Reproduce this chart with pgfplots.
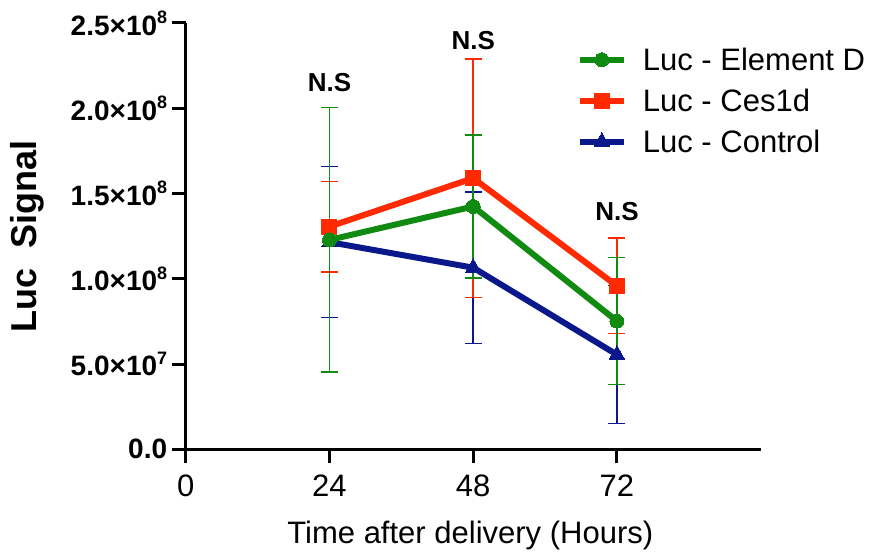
\documentclass[border=0pt]{standalone}
\usepackage{pgfplots}
\pgfplotsset{compat=1.18}
\usepackage{fontspec}
\setmainfont{Liberation Sans}
\definecolor{cgreen}{RGB}{16,138,16}
\definecolor{cred}{RGB}{255,42,0}
\definecolor{cblue}{RGB}{10,24,140}
\newcommand{\sct}[2]{\textbf{#1×10\raisebox{0.42em}{\fontsize{18}{18}\selectfont #2}}}
\begin{document}
\begin{tikzpicture}
\path[use as bounding box] (0,0) rectangle (872pt,555pt);
\begin{axis}[
  at={(185.7pt,105.7pt)}, anchor=south west,
  scale only axis, width=575pt, height=426.3pt,
  xmin=0, xmax=96, ymin=0, ymax=2.5e8,
  axis lines=left, axis line style={-, line width=3pt},
  tick style={line width=3pt, black}, tick align=outside,
  major tick length=14pt,
  xtick={0,24,48,72},
  ytick={0,0.5e8,1e8,1.5e8,2e8,2.5e8},
  yticklabels={\textbf{0.0},\sct{5.0}{7},\sct{1.0}{8},\sct{1.5}{8},\sct{2.0}{8},\sct{2.5}{8}},
  scaled y ticks=false,
  yticklabel style={font=\fontsize{28}{33}\selectfont, xshift=-1pt},
  xticklabel style={font=\fontsize{31}{37}\selectfont, yshift=-8pt},
  /pgf/number format/assume math mode=true,
  xlabel={Time after delivery (Hours)},
  xlabel style={font=\fontsize{31}{37}\selectfont, at={(axis description cs:0.495,-0.203)}, anchor=center},
  ylabel={\textbf{Luc\ \ Signal}},
  ylabel style={font=\fontsize{36}{42}\selectfont, at={(axis description cs:-0.276,0.5)}, anchor=center, rotate=0},
  clip=false,
  reverse legend,
  legend cell align=left,
  legend style={draw=none, fill=none, at={(0.68,0.947)}, anchor=north west,
    font=\fontsize{31}{36}\selectfont, row sep=13pt, inner sep=0pt},
  legend image code/.code={\draw[mark repeat=2, mark phase=2] plot coordinates {(0pt,0pt) (22pt,0pt) (44pt,0pt)};},
  every axis plot/.append style={line width=6pt},
  error bars/y dir=both, error bars/y explicit,
  error bars/error bar style={line width=1.5pt},
  error bars/error mark options={rotate=90, mark size=8.5pt, line width=1.5pt},
]
\addplot[cblue, mark=triangle*, mark size=9pt, mark options={solid, line width=0pt},
  error bars/error bar style={cblue, line width=1.5pt}]
  coordinates {(24,1.215e8) +- (0,0.443e8) (48,1.065e8) +- (0,0.445e8) (72,0.555e8) +- (0,0.405e8)};
\addlegendentry{\hspace{14pt}Luc - Control}
\addplot[cred, mark=square*, mark size=7.5pt, mark options={solid, line width=0pt},
  error bars/error bar style={cred, line width=1.5pt}]
  coordinates {(24,1.306e8) +- (0,0.265e8) (48,1.590e8) +- (0,0.70e8) (72,0.958e8) +- (0,0.28e8)};
\addlegendentry{\hspace{14pt}Luc - Ces1d}
\addplot[cgreen, mark=*, mark size=7pt, mark options={solid, line width=0pt},
  error bars/error bar style={cgreen, line width=1.5pt}]
  coordinates {(24,1.228e8) +- (0,0.775e8) (48,1.424e8) +- (0,0.42e8) (72,0.752e8) +- (0,0.372e8)};
\addlegendentry{\hspace{14pt}Luc - Element D}
\node[font=\fontsize{26}{30}\selectfont\bfseries] at (axis cs:24,2.15e8) {N.S};
\node[font=\fontsize{26}{30}\selectfont\bfseries] at (axis cs:48,2.40e8) {N.S};
\node[font=\fontsize{26}{30}\selectfont\bfseries] at (axis cs:72,1.393e8) {N.S};
\end{axis}
\end{tikzpicture}
\end{document}
